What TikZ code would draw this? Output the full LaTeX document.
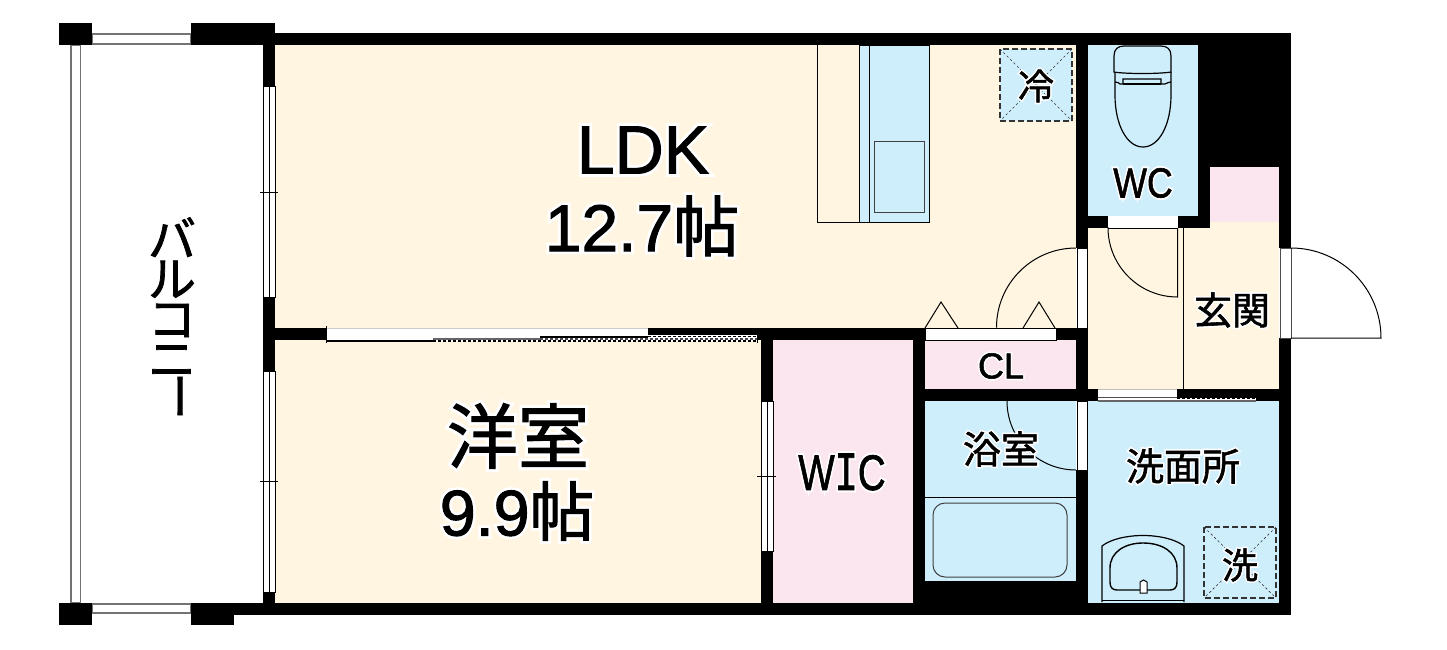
\documentclass[tikz,border=0pt]{standalone}
\usepackage{fontspec}
\setmainfont{Liberation Sans}
\newfontfamily\jp[FakeBold=1.5]{Noto Sans CJK JP}
\newfontfamily\jph[FakeBold=10]{Noto Sans CJK JP}
\newfontfamily\lat[FakeBold=1.5]{Liberation Sans}
\newfontfamily\lath[FakeBold=10]{Liberation Sans}
\newfontfamily\mono[FakeBold=1.5]{DejaVu Sans Mono}
\newfontfamily\monoh[FakeBold=10]{DejaVu Sans Mono}
\definecolor{floorc}{HTML}{FFF5E0}
\definecolor{bluec}{HTML}{CFEEFC}
\definecolor{pinkc}{HTML}{FBE6F0}
\newcommand{\fsz}[1]{\fontsize{#1}{#1}\selectfont}
\newcommand{\halojp}[2]{\fsz{#1}\rlap{\color{white}\jph #2}{\jp #2}}
\newcommand{\halola}[2]{\fsz{#1}\rlap{\color{white}\lath #2}{\lat #2}}
\newcommand{\halomix}[3]{\fsz{#1}\rlap{\color{white}\lath #2{\jph #3}}{\lat #2{\jp #3}}}
\tikzset{
  x=0.5pt,y=-0.5pt,
  wall/.style={fill=black,draw=none},
  room/.style={draw=none},
  thin line/.style={draw=black,line width=0.5pt},
  glass/.style={fill=white,draw=black,line width=0.5pt},
  rail/.style={fill=white,draw=black!55,line width=0.75pt},
  lbl/.style={inner sep=0pt,outer sep=0pt,anchor=center,text=black},
  dashbox/.style={fill=bluec,draw=black!80,line width=0.55pt,dash pattern=on 3pt off 1.5pt},
  cross/.style={draw=black!80,line width=0.3pt,dash pattern=on 1.2pt off 1.2pt}
}
\begin{document}
\begin{tikzpicture}
\useasboundingbox (0,0) rectangle (1447,649);
\fill[white] (0,0) rectangle (1447,649);
% floors
\fill[floorc] (275,45) rectangle (1076,328);
\fill[floorc] (275,340) rectangle (761,603);
\fill[floorc] (925,300) rectangle (1076,328);
\fill[bluec] (1088,45) rectangle (1198,216);
\fill[pinkc] (1210,167) rectangle (1279,222);
\fill[floorc] (1088,228) rectangle (1279,389);
\fill[floorc] (1210,222) rectangle (1279,228);
\fill[pinkc] (773,340) rectangle (913,603);
\fill[pinkc] (925,340) rectangle (1076,389);
\fill[bluec] (925,401) rectangle (1076,581);
\fill[bluec] (1088,401) rectangle (1279,603);
% balcony rails
\draw[rail] (71,45) rectangle (80.5,603);
\draw[rail] (92,34) rectangle (191,44);
\draw[rail] (92,604) rectangle (191,613);
% walls
\fill[wall] (59,23) rectangle (92,45);
\fill[wall] (191,23) rectangle (275,45);
\fill[wall] (275,33) rectangle (1291,45);
\fill[wall] (263,45) rectangle (275,86);
\fill[wall] (263,297) rectangle (275,371);
\fill[wall] (275,328) rectangle (326,340);
\fill[wall] (263,592) rectangle (275,603);
\fill[wall] (59,603) rectangle (92,625);
\fill[wall] (191,603) rectangle (234,625);
\fill[wall] (234,603) rectangle (1291,615);
\fill[wall] (1198,45) rectangle (1291,167);
\fill[wall] (1279,167) rectangle (1291,248);
\fill[wall] (1279,338) rectangle (1291,615);
\fill[wall] (1076,45) rectangle (1088,248);
\fill[wall] (1088,216) rectangle (1108,228);
\fill[wall] (1178,216) rectangle (1210,228);
\fill[wall] (1198,167) rectangle (1210,228);
\fill[wall] (1056,328) rectangle (1088,340);
\fill[wall] (1076,340) rectangle (1088,401);
\fill[wall] (648,328) rectangle (925,335);
\fill[wall] (757,335) rectangle (925,340);
\fill[wall] (761,340) rectangle (773,401);
\fill[wall] (761,551) rectangle (773,603);
\fill[wall] (913,340) rectangle (925,603);
\fill[wall] (913,389) rectangle (1098,401);
\fill[wall] (1177,389) rectangle (1279,398);
\fill[wall] (1256,398) rectangle (1279,401);
\fill[wall] (913,581) rectangle (1088,603);
\fill[wall] (1076,470) rectangle (1088,603);
% windows
\draw[glass] (263,86) rectangle (275,297);
\draw[thin line] (269,86) -- (269,297);
\draw[thin line] (260,192) -- (278,192);
\draw[glass] (263,371) rectangle (275,592);
\draw[thin line] (269,371) -- (269,592);
\draw[thin line] (260,481) -- (278,481);
\draw[glass] (761,401) rectangle (773,551);
\draw[thin line] (767,401) -- (767,551);
\draw[thin line] (757,476) -- (776,476);
% sliding door LDK/yoshitsu
\fill[white] (326,328) rectangle (648,341);
\fill[white] (648,335) rectangle (757,341);
\draw[black!20,line width=0.5pt] (326,328) -- (648,328);
\draw[line width=0.7pt] (326,341) -- (433,341);
\draw[line width=0.3pt] (326,326) -- (326,343);
\draw[black!60,line width=0.9pt] (433,339) -- (540,339);
\draw[line width=0.7pt,dash pattern=on 1.5pt off 1pt] (433,341) -- (757,341);
\draw[line width=0.7pt] (540,337) -- (648,337);
\draw[black!70,line width=0.9pt,dash pattern=on 1.5pt off 1pt] (540,339) -- (757,339);
\draw[line width=0.7pt,dash pattern=on 1.5pt off 1pt] (648,336.5) -- (757,336.5);
\draw[line width=0.3pt] (757,335) -- (757,343);
% kitchen
\draw[thin line] (817,45) -- (817,222) -- (859,222);
\draw[thin line,fill=bluec] (859,45) rectangle (869,222);
\draw[thin line,fill=bluec] (869,45) rectangle (929,222);
\draw[thin line,draw=black!75] (874,141) rectangle (924,212);
% fridge
\draw[dashbox] (1000,49) rectangle (1072,121);
\draw[cross] (1000,49) -- (1072,121);
\draw[cross] (1072,49) -- (1000,121);
% WC toilet
\draw[thin line,line width=0.6pt,fill=bluec] (1114,72) -- (1114,56) .. controls (1114,49) and (1118,46) .. (1124,46) -- (1161,46) .. controls (1167,46) and (1171,49) .. (1171,56) -- (1171,72) .. controls (1160,74) and (1125,74) .. (1114,72) -- cycle;
\draw[thin line,line width=0.6pt] (1115,72) -- (1115,95) .. controls (1115,125) and (1127,147) .. (1143,147) .. controls (1159,147) and (1171,125) .. (1171,95) -- (1171,72);
\draw[thin line,line width=0.6pt] (1115,82) .. controls (1118,82) and (1119,83) .. (1120,84) -- (1123,84) -- (1123,79) -- (1161,79) -- (1161,84) -- (1165,84) .. controls (1167,83) and (1169,82) .. (1171,82);
\draw[thin line,line width=0.6pt] (1123,84) -- (1161,84);
% inner doors
\draw[glass,draw=none] (1108,217) rectangle (1178,228);
\draw[thin line] (1108,228) -- (1178,228);
\draw[thin line] (1183,228) -- (1183,389);
\draw[thin line] (1177.5,228) -- (1177.5,297) arc[start angle=90,end angle=180,radius=69.5];
\draw[glass] (1077,248) rectangle (1087,328);
\draw[thin line] (1076,248) arc[start angle=270,end angle=180,radius=79.5];
\draw[glass] (925,328) rectangle (1056,340);
\draw[thin line] (925,328) -- (941,302) -- (958,328);
\draw[thin line] (1023,328) -- (1039,302) -- (1055,328);
% washroom window
\fill[white] (1098,389) rectangle (1177,398);
\fill[white] (1177,398) rectangle (1256,401);
\fill[white] (1098,398) rectangle (1177,401);
\draw[black!25,line width=0.4pt] (1098,389) -- (1177,389);
\draw[black!70,line width=0.7pt] (1098,397.5) -- (1177,397.5);
\draw[black!60,line width=0.7pt] (1098,401) -- (1256,401);
\draw[line width=0.6pt,dash pattern=on 1.5pt off 1pt] (1177,398.5) -- (1256,398.5);
% entrance door
\draw[glass,draw=black!70] (1280,248) rectangle (1291,338);
\draw[thin line] (1291,248) arc[start angle=270,end angle=360,radius=90] -- (1291,338);
% bath
\draw[thin line] (925,497.5) -- (1076,497.5);
\draw[thin line,draw=black!75,rounded corners=6pt] (933,503) rectangle (1067,577);
\draw[glass] (1077,401) rectangle (1087,470);
\draw[thin line] (1007,401) arc[start angle=180,end angle=90,radius=69];
% washer
\draw[dashbox] (1204,527) rectangle (1276,598);
\draw[cross] (1204,527) -- (1276,598);
\draw[cross] (1276,527) -- (1204,598);
% sink
\draw[thin line,line width=0.6pt] (1102,602) -- (1102,546) .. controls (1120,532) and (1166,532) .. (1184,546) -- (1184,602);
\draw[thin line] (1102,600) -- (1184,600);
\draw[thin line,line width=0.7pt] (1110,582) -- (1110,568) .. controls (1110,552) and (1125,543) .. (1143,543) .. controls (1162,543) and (1177,552) .. (1177,568) -- (1177,582) .. controls (1177,587) and (1175,590) .. (1170,590) -- (1117,590) .. controls (1112,590) and (1110,587) .. (1110,582) -- cycle;
\draw[thin line,fill=white] (1140,593) -- (1140,582) -- (1143.5,580) -- (1147,582) -- (1147,593) -- cycle;
% labels
\node[lbl] (ldk) at (643,150) {\halola{34}{LDK}};
\node[lbl] (ldkn) at (642,226) {\halomix{33}{12.7}{帖}};
\node[lbl] (yo) at (518,436) {\halojp{35.5}{洋室}};
\node[lbl] (yon) at (517,511) {\halomix{32.3}{9.9}{帖}};
\node[lbl] (rei) at (1036,86) {\halojp{18}{冷}};
\node[lbl] (wc) at (1143,183) {\scalebox{0.85}[1]{\halola{21}{WC}}};
\node[lbl] (cl) at (1001,366) {\halola{18}{CL}};
\node[lbl] (wic) at (842,472) {\scalebox{0.77}[1]{\fsz{25}\rlap{\color{white}\lath W{\monoh I}C}{\lat W{\mono I}C}}};
\node[lbl] (gen) at (1232,310) {\halojp{19}{玄関}};
\node[lbl] (yoku) at (1001,449) {\halojp{19}{浴室}};
\node[lbl] (sen) at (1183,466) {\halojp{19}{洗面所}};
\node[lbl] (sent) at (1240,565) {\halojp{18}{洗}};
\node[lbl,align=center,font=\jp\fontsize{24}{20}\selectfont] (bal) at (172,297) {バ\\ル\\コ\\ニ};
\node[lbl,rotate=-90,font=\jp\fontsize{24}{24}\selectfont] (balb) at (172,396) {ー};
\end{tikzpicture}
\end{document}
